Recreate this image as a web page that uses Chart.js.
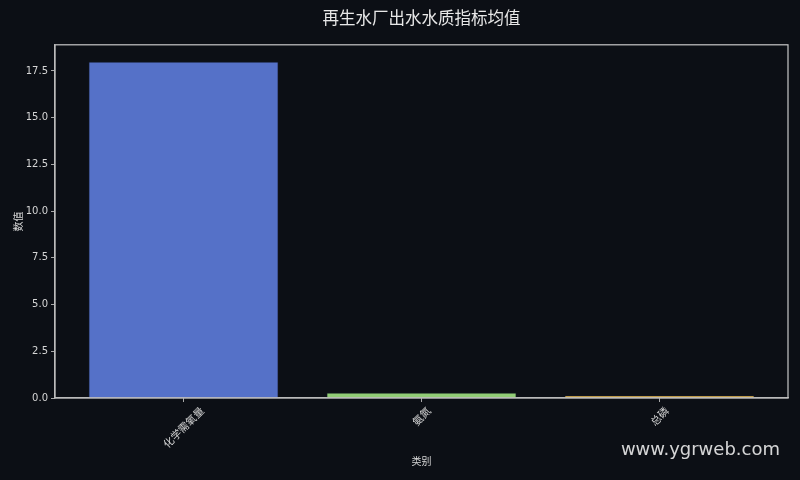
<!DOCTYPE html>
<html>
<head>
<meta charset="utf-8">
<script src="https://cdn.jsdelivr.net/npm/chart.js@4/dist/chart.umd.min.js"></script>
<style>
  html, body { margin: 0; padding: 0; background: #0c0f15; }
  #wrap { width: 800px; height: 480px; position: relative; }
</style>
</head>
<body>
<div id="wrap"><canvas id="chart"></canvas></div>
<script>
const categories = ["化学需氧量", "氨氮", "总磷"];
const values = [18.0, 0.3, 0.15];
const barColors = ["#5571c8", "#92cd76", "#fac858"];
const yTicks = [0, 2.5, 5, 7.5, 10, 12.5, 15, 17.5];

const textColor = "#d6d6d6";
const axisColor = "#a8a8a8";
const font = "'DejaVu Sans', sans-serif";
const cjkFont = "'Noto Sans CJK SC', 'DejaVu Sans', sans-serif";

// frame around the plot, rotated category labels, watermark
const decorations = {
  id: "decorations",
  afterDraw(chart) {
    const ctx = chart.ctx;
    const area = chart.chartArea;
    const xScale = chart.scales.x;
    ctx.save();
    ctx.strokeStyle = "#c8c8c8";
    ctx.lineWidth = 1.2;
    ctx.strokeRect(area.left, area.top, area.right - area.left, area.bottom - area.top);

    ctx.fillStyle = textColor;
    ctx.font = "10.5px " + cjkFont;
    ctx.textAlign = "center";
    ctx.textBaseline = "middle";
    categories.forEach((label, i) => {
      const x = xScale.getPixelForValue(i);
      const w = ctx.measureText(label).width;
      const size = (w + 10.5) * Math.SQRT1_2;
      const cy = area.bottom + 7 + size / 2;
      ctx.save();
      ctx.translate(x, cy);
      ctx.rotate(-Math.PI / 4);
      ctx.fillText(label, 0, 0);
      ctx.restore();
    });

    ctx.font = "18px 'DejaVu Sans', sans-serif";
    ctx.fillStyle = "rgba(235,235,235,0.9)";
    ctx.textAlign = "right";
    ctx.textBaseline = "alphabetic";
    ctx.fillText("www.ygrweb.com", 780, 455);
    ctx.restore();
  }
};

new Chart(document.getElementById("chart"), {
  type: "bar",
  data: {
    datasets: [{
      label: "数值",
      data: values.map((v, i) => ({ x: i, y: v })),
      backgroundColor: barColors,
      borderColor: "rgba(20,25,45,0.5)",
      borderWidth: 1,
      barPercentage: 0.8,
      categoryPercentage: 1.0
    }]
  },
  options: {
    responsive: true,
    maintainAspectRatio: false,
    animation: false,
    layout: { padding: { left: 0, right: 12, top: 0, bottom: 0 } },
    plugins: {
      legend: { display: false },
      tooltip: { enabled: false },
      title: {
        display: true,
        fullSize: false,
        text: "再生水厂出水水质指标均值",
        color: "#e8e8e8",
        font: { family: cjkFont, size: 16.5, weight: "normal" },
        padding: { top: 8, bottom: 17 }
      }
    },
    scales: {
      x: {
        type: "linear",
        min: -0.54,
        max: 2.54,
        offset: false,
        afterFit(scale) { scale.height = 82; },
        afterBuildTicks(scale) { scale.ticks = categories.map((c, i) => ({ value: i })); },
        grid: { offset: false, drawOnChartArea: false, drawTicks: true, tickLength: 4, color: axisColor, tickColor: axisColor },
        border: { display: true, color: axisColor, width: 1.2 },
        ticks: {
          color: "rgba(0,0,0,0)",
          maxRotation: 0,
          font: { size: 10 },
          callback: v => categories[v] || ""
        },
        title: {
          display: true,
          text: "类别",
          color: textColor,
          font: { family: cjkFont, size: 10 },
          padding: { top: 0, bottom: 13 }
        }
      },
      y: {
        min: 0,
        max: 18.9,
        afterFit(scale) { scale.width = 55; },
        afterBuildTicks(scale) { scale.ticks = yTicks.map(v => ({ value: v })); },
        grid: { drawOnChartArea: false, drawTicks: true, tickLength: 4, color: axisColor, tickColor: axisColor },
        border: { display: true, color: axisColor, width: 1.2 },
        ticks: {
          color: textColor,
          padding: 3,
          font: { family: font, size: 10 },
          callback: v => Number(v).toFixed(1)
        },
        title: {
          display: true,
          text: "数值",
          color: textColor,
          font: { family: cjkFont, size: 10 },
          padding: { top: 12, bottom: 0 }
        }
      }
    }
  },
  plugins: [decorations]
});
</script>
</body>
</html>
